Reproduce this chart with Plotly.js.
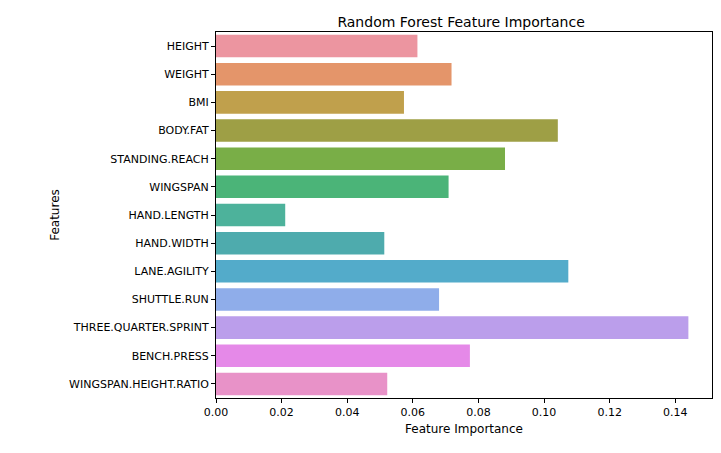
<!DOCTYPE html>
<html>
<head>
<meta charset="utf-8">
<script src="https://cdn.plot.ly/plotly-3.0.1.min.js"></script>
<style>body{margin:0;background:#fff}</style>
</head>
<body>
<div id="chart" style="width:721px;height:453px"></div>
<script>
const features = ['HEIGHT', 'WEIGHT', 'BMI', 'BODY.FAT', 'STANDING.REACH', 'WINGSPAN', 'HAND.LENGTH',
    'HAND.WIDTH', 'LANE.AGILITY', 'SHUTTLE.RUN', 'THREE.QUARTER.SPRINT', 'BENCH.PRESS', 'WINGSPAN.HEIGHT.RATIO'];
const importance = [0.0614, 0.0718, 0.0573, 0.1042, 0.0881, 0.0709, 0.0211,
    0.0513, 0.1074, 0.0680, 0.1440, 0.0774, 0.0522];
const barColors = ['#ec95a0', '#e4956a', '#c0a04c', '#9e9f45', '#79ae47', '#4bb478', '#4db29b',
    '#4eabad', '#53abca', '#8fadea', '#bb9eeb', '#e589e8', '#e892c8'];

const trace = {
    type: 'bar',
    orientation: 'h',
    x: importance,
    y: features,
    width: 0.8,
    marker: { color: barColors },
    hoverinfo: 'x+y',
};

const axisStyle = {
    showline: true, mirror: true, linecolor: '#000', linewidth: 1,
    ticks: 'outside', ticklen: 4, tickcolor: '#000',
    showgrid: false, zeroline: false,
    tickfont: { size: 11, color: '#000' },
};

const layout = {
    width: 721, height: 453,
    margin: { l: 216, r: 9, t: 32, b: 55 },
    paper_bgcolor: '#fff', plot_bgcolor: '#fff',
    font: { family: 'DejaVu Sans', color: '#000' },
    title: { text: 'Random Forest Feature Importance', font: { size: 14 }, x: 0.6395, xanchor: 'center', y: 0.962 },
    xaxis: { ...axisStyle, range: [0, 0.1512], tickvals: [0, 0.02, 0.04, 0.06, 0.08, 0.1, 0.12, 0.14],
        ticktext: ['0.00', '0.02', '0.04', '0.06', '0.08', '0.10', '0.12', '0.14'],
        title: { text: 'Feature Importance', font: { size: 12 }, standoff: 6 } },
    yaxis: { ...axisStyle, autorange: 'reversed', range: [-0.5, 12.5],
        title: { text: 'Features', font: { size: 12 }, standoff: 6 } },
    showlegend: false,
};

Plotly.newPlot('chart', [trace], layout, { displayModeBar: false, staticPlot: true });
</script>
</body>
</html>
